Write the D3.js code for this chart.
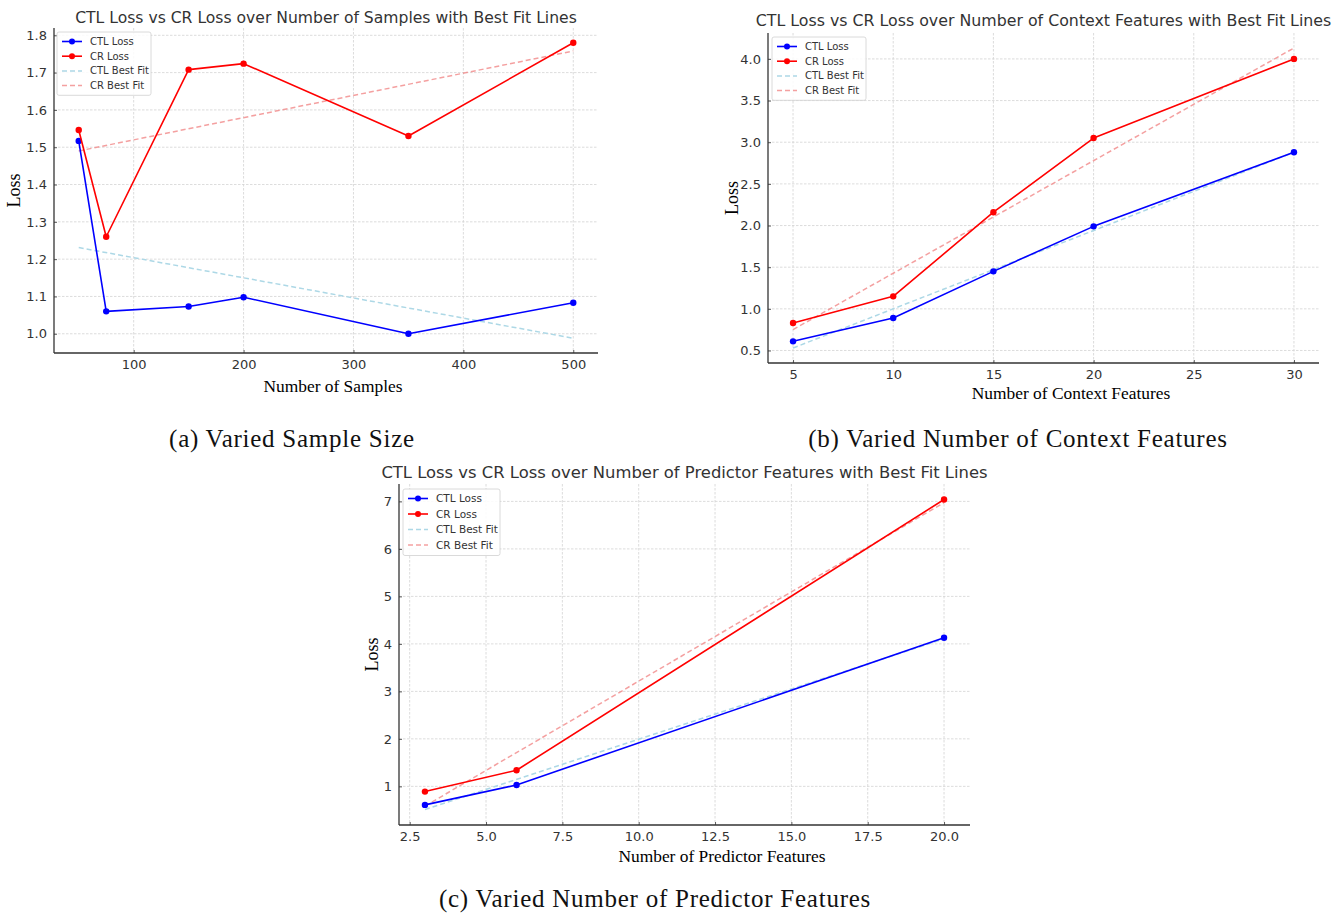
<!DOCTYPE html>
<html>
<head>
<meta charset="utf-8">
<script src="https://cdn.jsdelivr.net/npm/d3@7"></script>
<style>
  html, body { margin: 0; padding: 0; background: #fff; }
  svg { display: block; }
</style>
</head>
<body>
<svg id="fig" width="1335" height="913"></svg>
<script>
// ---- (a) varied sample size ----
const sampleSizes   = [50, 75, 150, 200, 350, 500];
const sampleCtlLoss = [1.517, 1.060, 1.073, 1.098, 1.000, 1.083];
const sampleCrLoss  = [1.546, 1.260, 1.708, 1.724, 1.530, 1.780];
const sampleCtlFit  = [1.231, 0.988];   // best-fit values at first / last sample size
const sampleCrFit   = [1.490, 1.758];
const sampleXTicks  = [100, 200, 300, 400, 500];
const sampleYTicks  = [1.0, 1.1, 1.2, 1.3, 1.4, 1.5, 1.6, 1.7, 1.8];

// ---- (b) varied number of context features ----
const contextFeatures = [5, 10, 15, 20, 30];
const contextCtlLoss  = [0.61, 0.89, 1.45, 1.99, 2.88];
const contextCrLoss   = [0.83, 1.15, 2.16, 3.05, 4.00];
const contextCtlFit   = [0.530, 2.880];
const contextCrFit    = [0.751, 4.131];
const contextXTicks   = [5, 10, 15, 20, 25, 30];
const contextYTicks   = [0.5, 1.0, 1.5, 2.0, 2.5, 3.0, 3.5, 4.0];

// ---- (c) varied number of predictor features ----
const predictorFeatures = [3, 6, 20];
const predictorCtlLoss  = [0.61, 1.03, 4.13];
const predictorCrLoss   = [0.89, 1.34, 7.04];
const predictorCtlFit   = [0.513, 4.108];
const predictorCrFit    = [0.584, 6.974];
const predictorXTicks   = [2.5, 5.0, 7.5, 10.0, 12.5, 15.0, 17.5, 20.0];
const predictorYTicks   = [1, 2, 3, 4, 5, 6, 7];

const legendLabels = ["CTL Loss", "CR Loss", "CTL Best Fit", "CR Best Fit"];

const panels = [
  {
    xs: sampleSizes, ctl: sampleCtlLoss, cr: sampleCrLoss,
    ctlFit: sampleCtlFit, crFit: sampleCrFit,
    xTicks: sampleXTicks, yTicks: sampleYTicks, xFmt: d3.format("d"), yFmt: d3.format(".1f"),
    title: "CTL Loss vs CR Loss over Number of Samples with Best Fit Lines",
    xLabel: "Number of Samples", caption: "(a) Varied Sample Size",
    box: { left: 54, right: 598, top: 28, bottom: 353 },
    titleY: 23, titleSize: 15.6, xLabelX: 333, xLabelY: 392, yLabelX: 20,
    captionX: 292, captionY: 447, legend: { x: 57, y: 32, w: 94, step: 14.7, font: 10 }
  },
  {
    xs: contextFeatures, ctl: contextCtlLoss, cr: contextCrLoss,
    ctlFit: contextCtlFit, crFit: contextCrFit,
    xTicks: contextXTicks, yTicks: contextYTicks, xFmt: d3.format("d"), yFmt: d3.format(".1f"),
    title: "CTL Loss vs CR Loss over Number of Context Features with Best Fit Lines",
    xLabel: "Number of Context Features", caption: "(b) Varied Number of Context Features",
    box: { left: 768, right: 1319, top: 33, bottom: 363 },
    titleY: 26, titleSize: 15.8, xLabelX: 1071, xLabelY: 399, yLabelX: 738,
    captionX: 1018, captionY: 447, legend: { x: 772, y: 37, w: 94, step: 14.7, font: 10 }
  },
  {
    xs: predictorFeatures, ctl: predictorCtlLoss, cr: predictorCrLoss,
    ctlFit: predictorCtlFit, crFit: predictorCrFit,
    xTicks: predictorXTicks, yTicks: predictorYTicks, xFmt: d3.format(".1f"), yFmt: d3.format("d"),
    title: "CTL Loss vs CR Loss over Number of Predictor Features with Best Fit Lines",
    xLabel: "Number of Predictor Features", caption: "(c) Varied Number of Predictor Features",
    box: { left: 399, right: 970, top: 484, bottom: 825 },
    titleY: 478, titleSize: 16.4, xLabelX: 722, xLabelY: 862, yLabelX: 378,
    captionX: 655, captionY: 907, legend: { x: 403, y: 489, w: 97, step: 15.5, font: 10.5 }
  }
];

const svg = d3.select("#fig");
const sans = "'DejaVu Sans', sans-serif";
const serif = "'Liberation Serif', 'Times New Roman', serif";
const textGray = "#333";

const styles = {
  ctl:    { color: "#0000ff", dash: null, width: 1.6, marker: true },
  cr:     { color: "#ff0000", dash: null, width: 1.6, marker: true },
  ctlFit: { color: "#add8e6", dash: "5,3", width: 1.5, marker: false },
  crFit:  { color: "#f08080", dash: "5,3", width: 1.5, marker: false, opacity: 0.75 }
};

function padded(lo, hi) {
  const m = (hi - lo) * 0.05;
  return [lo - m, hi + m];
}

panels.forEach(p => {
  const b = p.box;
  const fitXs = [p.xs[0], p.xs[p.xs.length - 1]];
  const allY = p.ctl.concat(p.cr, p.ctlFit, p.crFit);

  const x = d3.scaleLinear().domain(padded(d3.min(p.xs), d3.max(p.xs))).range([b.left, b.right]);
  const y = d3.scaleLinear().domain(padded(d3.min(allY), d3.max(allY))).range([b.bottom, b.top]);

  const g = svg.append("g");

  // grid
  g.append("g").selectAll("line").data(p.xTicks).join("line")
    .attr("x1", d => x(d)).attr("x2", d => x(d))
    .attr("y1", b.top).attr("y2", b.bottom)
    .attr("stroke", "#d3d3d3").attr("stroke-width", 0.8).attr("stroke-dasharray", "2.5,1.5");
  g.append("g").selectAll("line").data(p.yTicks).join("line")
    .attr("y1", d => y(d)).attr("y2", d => y(d))
    .attr("x1", b.left).attr("x2", b.right)
    .attr("stroke", "#d3d3d3").attr("stroke-width", 0.8).attr("stroke-dasharray", "2.5,1.5");

  // axes
  const xAxis = d3.axisBottom(x).tickValues(p.xTicks).tickFormat(p.xFmt).tickSizeInner(-3).tickSizeOuter(0).tickPadding(7);
  const yAxis = d3.axisLeft(y).tickValues(p.yTicks).tickFormat(p.yFmt).tickSizeInner(-3).tickSizeOuter(0).tickPadding(7);
  const gx = g.append("g").attr("transform", `translate(0,${b.bottom})`).call(xAxis);
  const gy = g.append("g").attr("transform", `translate(${b.left},0)`).call(yAxis);
  [gx, gy].forEach(a => {
    a.select(".domain").attr("stroke", "#333").attr("stroke-width", 1.3);
    a.selectAll(".tick line").attr("stroke", "#333").attr("stroke-width", 0.8);
    a.selectAll(".tick text").attr("fill", textGray).style("font-family", sans).style("font-size", "13px");
  });
  gx.select(".domain").attr("d", `M${b.left},0H${b.right}`);
  gy.select(".domain").attr("d", `M0,${b.bottom}V${b.top}`);

  // series
  const line = d3.line().x(d => x(d[0])).y(d => y(d[1]));
  const series = [
    { key: "ctlFit", xs: fitXs, ys: p.ctlFit },
    { key: "crFit",  xs: fitXs, ys: p.crFit },
    { key: "ctl",    xs: p.xs,  ys: p.ctl },
    { key: "cr",     xs: p.xs,  ys: p.cr }
  ];
  series.forEach(s => {
    const st = styles[s.key];
    const pts = s.xs.map((v, i) => [v, s.ys[i]]);
    g.append("path").attr("d", line(pts))
      .attr("fill", "none").attr("stroke", st.color).attr("stroke-width", st.width)
      .attr("stroke-dasharray", st.dash).attr("stroke-opacity", st.opacity || 1)
      .attr("stroke-linejoin", "round");
    if (st.marker) {
      g.append("g").selectAll("circle").data(pts).join("circle")
        .attr("cx", d => x(d[0])).attr("cy", d => y(d[1])).attr("r", 3.2)
        .attr("fill", st.color);
    }
  });

  // legend
  const L = p.legend;
  const lg = g.append("g").attr("transform", `translate(${L.x},${L.y})`);
  lg.append("rect").attr("width", L.w).attr("height", L.step * 4 + 4.5).attr("rx", 2)
    .attr("fill", "#fff").attr("fill-opacity", 0.85).attr("stroke", "#d0d0d0").attr("stroke-width", 0.8);
  ["ctl", "cr", "ctlFit", "crFit"].forEach((k, i) => {
    const st = styles[k];
    const cy = 9.5 + i * L.step;
    lg.append("line").attr("x1", 5).attr("x2", 25).attr("y1", cy).attr("y2", cy)
      .attr("stroke", st.color).attr("stroke-width", st.width)
      .attr("stroke-dasharray", st.dash).attr("stroke-opacity", st.opacity || 1);
    if (st.marker) lg.append("circle").attr("cx", 15).attr("cy", cy).attr("r", 3).attr("fill", st.color);
    lg.append("text").attr("x", 33).attr("y", cy).attr("dy", "0.35em")
      .attr("fill", textGray).style("font-family", sans).style("font-size", L.font + "px")
      .text(legendLabels[i]);
  });

  // title
  g.append("text").attr("x", (b.left + b.right) / 2).attr("y", p.titleY)
    .attr("text-anchor", "middle").attr("fill", textGray)
    .style("font-family", sans).style("font-size", p.titleSize + "px").text(p.title);

  // axis labels
  g.append("text").attr("x", p.xLabelX).attr("y", p.xLabelY)
    .attr("text-anchor", "middle").attr("fill", "#000")
    .style("font-family", serif).style("font-size", "17.4px").text(p.xLabel);
  g.append("text")
    .attr("transform", `translate(${p.yLabelX},${(b.top + b.bottom) / 2}) rotate(-90)`)
    .attr("text-anchor", "middle").attr("fill", "#000")
    .style("font-family", serif).style("font-size", "18px").text("Loss");

  // caption
  svg.append("text").attr("x", p.captionX).attr("y", p.captionY)
    .attr("text-anchor", "middle").attr("fill", "#111")
    .style("font-family", serif).style("font-size", "25px").style("letter-spacing", "0.75px")
    .text(p.caption);
});
</script>
</body>
</html>
